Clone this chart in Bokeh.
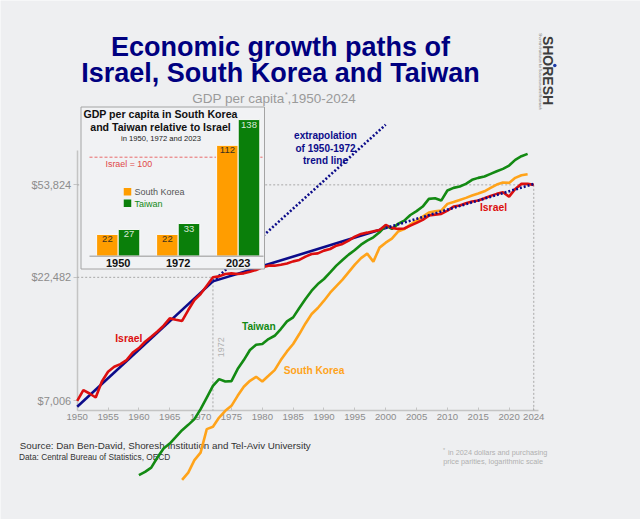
import math
from bokeh.plotting import figure
from bokeh.models import Range1d, LinearScale, FixedTicker, NumeralTickFormatter, Label
from bokeh.core.properties import value
from bokeh.embed import file_html
from bokeh.resources import INLINE

# ---------------- data ----------------
israel_years = list(range(1950, 2025))
israel = [7006, 7752, 7507, 7228, 8408, 9215, 9661, 9913, 10295, 11060,
          11530, 12240, 12830, 13490, 14240, 15260, 15070, 14890, 16510, 18150,
          19210, 20780, 22482, 22690, 23210, 23340, 23210, 23340, 23710, 24100,
          24700, 25100, 25100, 25330, 25640, 26140, 26490, 27330, 28030, 28180,
          28930, 29380, 30320, 30820, 31790, 33010, 33870, 34280, 34710, 35160,
          36880, 35850, 35510, 35650, 36640, 37580, 38670, 40270, 40640, 40920,
          42220, 43850, 44260, 45240, 45960, 46400, 47420, 48510, 49430, 50190,
          48190, 51810, 54330, 54330, 53824]

taiwan_years = list(range(1960, 2024))
taiwan = [3472, 3581, 3729, 4101, 4464, 4681, 4985, 5312, 5585, 5894,
          6477, 7228, 8072, 8600, 8410, 8440, 9454, 10290, 11320, 11900,
          11980, 12550, 12950, 13800, 14830, 15400, 16830, 18320, 19820, 21100,
          22130, 23550, 25100, 26490, 27860, 29110, 30610, 31790, 32810, 34380,
          36640, 35500, 37240, 38410, 40500, 42000, 43850, 47160, 47420, 46400,
          51010, 52320, 52970, 54330, 56430, 57500, 58210, 59700, 61200, 62600,
          64580, 68170, 70540, 72130]

korea_years = list(range(1967, 2024))
korea = [3320, 3557, 4000, 4298, 5363, 5481, 5983, 6375, 6683, 7345,
         8000, 8465, 8790, 8410, 8872, 9365, 10290, 11170, 11980, 13160,
         14550, 15900, 16830, 18030, 19450, 20680, 21990, 23600, 25330, 26940,
         28120, 26070, 29760, 31190, 32390, 34610, 35440, 37000, 38410, 39900,
         41420, 41930, 42220, 44980, 45810, 46700, 47600, 48640, 49580, 50660,
         52320, 53980, 55000, 54830, 57500, 58950, 59510]

trend_years = [1950, 1972]
trend_vals = [6625, 21640]
extrap_years = [1972, 2000]
extrap_vals = [21640, 95000]
trend2_years = [1972, 2000]
trend2_vals = [21640, 35800]
trend2_dot_years = [2000, 2024]
trend2_dot_vals = [35800, 54300]

x_ticks = [1950, 1955, 1960, 1965, 1970, 1975, 1980, 1985, 1990, 1995,
           2000, 2005, 2010, 2015, 2020, 2024]

inset_years = ["1950", "1972", "2023"]
inset_korea = [22, 22, 112]
inset_taiwan = [27, 33, 138]
israel_base = 100

# ---------------- style ----------------
BG = "#eeeff1"
RED = "#dc0f0f"
NAVY = "#0c0c8a"
GREEN = "#138a13"
ORANGE = "#ffa31a"
BAR_OR = "#ff9d00"
BAR_GR = "#0a7f0a"
SANS = "Liberation Sans"

W, H = 640, 519
AXIS_Y = 6393      # where the x axis sits (value scale)
AXIS_TOP = 74440

p = figure(width=W, height=H, x_range=Range1d(1937.569, 2041.297),
           y_range=Range1d(2285, 306830), y_axis_type="log",
           output_backend="svg", toolbar_location=None,
           min_border=0, background_fill_color=BG, border_fill_color=BG,
           outline_line_color=None)
p.title.visible = False
p.grid.visible = False

p.extra_x_ranges = {"px": Range1d(0, 640), "ix": Range1d(-1.9617, 8.705)}
p.extra_y_ranges = {"py": Range1d(519, 0), "iv": Range1d(-265.96, 258.28)}
p.extra_x_scales = {"px": LinearScale(), "ix": LinearScale()}
p.extra_y_scales = {"py": LinearScale(), "iv": LinearScale()}

# axes
xa = p.xaxis[0]
xa.ticker = FixedTicker(ticks=x_ticks)
xa.fixed_location = AXIS_Y
xa.bounds = (1950, 2024.8)
xa.major_tick_in = 3
xa.major_tick_out = 0
xa.minor_tick_line_color = None
xa.major_label_standoff = 3
xa.major_label_text_font = SANS
xa.major_label_text_font_size = "9.6px"

ya = p.yaxis[0]
ya.ticker = FixedTicker(ticks=[israel[0], israel[israel_years.index(1972)], israel[-1]])
ya.formatter = NumeralTickFormatter(format="$0,0")
ya.fixed_location = 1950
ya.bounds = (AXIS_Y, AXIS_TOP)
ya.major_tick_in = 0
ya.major_tick_out = 4
ya.minor_tick_line_color = None
ya.major_label_standoff = 2
ya.major_label_text_font = SANS
ya.major_label_text_font_size = "11px"
for ax in (xa, ya):
    ax.axis_line_color = "#c4c4c4"
    ax.axis_line_width = 1.5
    ax.major_tick_line_color = "#c4c4c4"
    ax.major_label_text_color = "#8c8c8c"
    ax.level = "underlay"

# reference guides
GUIDE = dict(line_color="#a8a8a8", line_width=1, line_dash="2 2")
i72 = israel_years.index(1972)
p.line([israel_years[0], israel_years[-1]], [israel[-1], israel[-1]], **GUIDE)
p.line([israel_years[-1], israel_years[-1]], [israel[-1], AXIS_Y], **GUIDE)
p.line([israel_years[0], 1972], [israel[i72], israel[i72]], **GUIDE)
p.line([1972, 1972], [israel[i72], AXIS_Y], **GUIDE)

# main lines
p.line(extrap_years, extrap_vals, line_color=NAVY, line_width=2.6, line_dash="2 2")
p.line(trend_years, trend_vals, line_color=NAVY, line_width=2.6)
p.line(trend2_years, trend2_vals, line_color=NAVY, line_width=2.6)
p.line(korea_years, korea, line_color=ORANGE, line_width=2.6)
p.line(taiwan_years, taiwan, line_color=GREEN, line_width=2.6)
p.line(israel_years, israel, line_color=RED, line_width=2.6)
p.line(trend2_dot_years, trend2_dot_vals, line_color=NAVY, line_width=2.6, line_dash="2 2")

# ---------------- inset ----------------
p.quad(left=[80.5], right=[264], top=[106.5], bottom=[268.5],
       x_range_name="px", y_range_name="py",
       fill_color="#f1f2f4", line_color="#a4a4a4", line_width=1)
p.line([89, 262], [israel_base, israel_base], x_range_name="px", y_range_name="iv",
       line_color="#e86a6a", line_width=1, line_dash="3 2")
idx = list(range(len(inset_years)))
p.vbar(x=[i - 0.18 for i in idx], top=inset_korea, bottom=0, width=0.36,
       x_range_name="ix", y_range_name="iv",
       fill_color=BAR_OR, line_color="#fafafa", line_width=1)
p.vbar(x=[i + 0.18 for i in idx], top=inset_taiwan, bottom=0, width=0.36,
       x_range_name="ix", y_range_name="iv",
       fill_color=BAR_GR, line_color="#fafafa", line_width=1)
p.line([89, 263], [0, 0], x_range_name="px", y_range_name="iv",
       line_color="#b4b4b4", line_width=1.5)
p.text(x=[i - 0.18 for i in idx], y=inset_korea, text=[str(v) for v in inset_korea],
       x_range_name="ix", y_range_name="iv", y_offset=5,
       text_align="center", text_baseline="middle", text_font=value(SANS),
       text_font_size="9.5px", text_color="#3a3020")
p.text(x=[i + 0.18 for i in idx], y=inset_taiwan, text=[str(v) for v in inset_taiwan],
       x_range_name="ix", y_range_name="iv", y_offset=5,
       text_align="center", text_baseline="middle", text_font=value(SANS),
       text_font_size="9.5px", text_color="#d8e8d8")
p.text(x=idx, y=[0] * len(idx), text=inset_years,
       x_range_name="ix", y_range_name="iv", y_offset=6.5,
       text_align="center", text_baseline="middle", text_font=value(SANS),
       text_font_size="11px", text_font_style="bold", text_color="#111111")
p.scatter(x=[127, 127], y=[191.3, 202.7], marker="square", size=7.5,
          x_range_name="px", y_range_name="py",
          fill_color=[BAR_OR, BAR_GR], line_color=None)
# logo dot
p.scatter(x=[554.3], y=[65], marker="circle", size=3.5,
          x_range_name="px", y_range_name="py", fill_color="#1a3aa8", line_color=None)


def lab(text, px, py, size, color, bold=False, align="left", font=SANS,
        angle=0.0, level=None):
    l = Label(x=px, y=H - py, x_units="screen", y_units="screen",
              text=text, text_font_size=f"{size}px", text_color=color,
              text_font_style="bold" if bold else "normal", text_align=align,
              text_baseline="middle", text_font=font, angle=angle)
    if level:
        l.level = level
    p.add_layout(l)


# titles
lab("Economic growth paths of", 280, 46, 27, "#000080", bold=True, align="center")
lab("Israel, South Korea and Taiwan", 280, 72.5, 27, "#000080", bold=True, align="center")
lab("GDP per capita", 284, 98, 13.5, "#9a9a9a", align="right")
lab("*", 284.5, 94, 7, "#9a9a9a")
lab(",1950-2024", 287, 98, 13.5, "#9a9a9a")

# inset texts
lab("GDP per capita in South Korea", 160, 113.5, 10.6, "#111111", bold=True, align="center")
lab("and Taiwan relative to Israel", 160, 126, 10.6, "#111111", bold=True, align="center")
lab("in 1950, 1972 and 2023", 160.5, 138, 7.6, "#222222", align="center")
lab("Israel = 100", 105, 163.5, 8.9, "#e04848")
lab("South Korea", 134, 191.5, 9, "#555555")
lab("Taiwan", 134, 203, 9, GREEN)

# series labels
lab("Israel", 128.3, 337.5, 10.4, RED, bold=True, align="center")
lab("Israel", 493, 207, 10.4, RED, bold=True, align="center")
lab("Taiwan", 258.3, 326, 10.2, GREEN, bold=True, align="center")
lab("South Korea", 283.3, 369.5, 10.2, ORANGE, bold=True)
lab("extrapolation", 325, 135, 10, NAVY, bold=True, align="center")
lab("of 1950-1972", 325, 147.5, 10, NAVY, bold=True, align="center")
lab("trend line", 325, 160, 10, NAVY, bold=True, align="center")
lab("1972", 220, 346.7, 9, "#b0b0b0", align="center", angle=math.pi / 2)

# sources and notes
lab("Source: Dan Ben-David, Shoresh Institution and Tel-Aviv University", 19.3, 445,
    9.8, "#333333", level="underlay")
lab("Data: Central Bureau of Statistics, OECD", 18.5, 456.8, 8.3, "#333333",
    level="underlay")
lab("*", 442.5, 449, 5.5, "#b0b0b0")
lab("in 2024 dollars and purchasing", 447.5, 451.5, 7.3, "#b0b0b0")
lab("price parities, logarithmic scale", 442.7, 460.5, 7.3, "#b0b0b0")

# logo
lab("SHORESH", 547.7, 70, 14, "#3c3c3c", bold=True, align="center", angle=-math.pi / 2)
lab("Shoresh Institution for Socioeconomic Research", 539.5, 71, 3.6, "#666666",
    align="center", angle=-math.pi / 2)

open("out.html", "w").write(file_html(p, INLINE))
